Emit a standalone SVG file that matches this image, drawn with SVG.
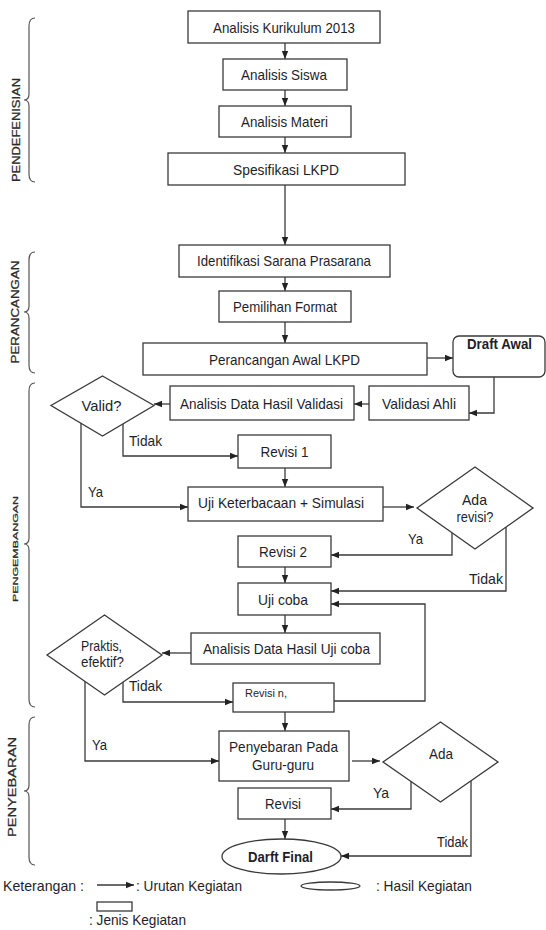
<svg xmlns="http://www.w3.org/2000/svg" width="546" height="930" viewBox="0 0 546 930">
<style>
.box{fill:#fff;stroke:#3a3a3a;stroke-width:1.3}
.t{font-family:"Liberation Sans",Arial,sans-serif;font-size:15px;fill:#1e1e2a;text-anchor:middle}
.l{text-anchor:start}
.b{font-weight:bold}
.c{fill:none;stroke:#3a3a3a;stroke-width:1.3}
.ar{marker-end:url(#ah)}
.br{fill:none;stroke:#555;stroke-width:1.2}
.v{font-family:"Liberation Sans",Arial,sans-serif;fill:#2a2a2a;text-anchor:middle;stroke:#2a2a2a;stroke-width:0.25}
</style>
<defs>
<marker id="ah" viewBox="0 0 10 10" refX="10" refY="5" markerWidth="8" markerHeight="8" markerUnits="userSpaceOnUse" orient="auto"><path d="M0,1 L10,5 L0,9 z" fill="#222"/></marker>
</defs>
<rect width="546" height="930" fill="#fff"/>

<g id="phases">
<path class="br" d="M35,18 Q29,18 29,26 L29,94 Q29,100 24,100 Q29,100 29,106 L29,174 Q29,182 35,182"/>
<text class="v" font-size="10.5" textLength="104" lengthAdjust="spacingAndGlyphs" transform="translate(20,130) rotate(-90)">PENDEFENISIAN</text>
<path class="br" d="M35,252 Q29,252 29,260 L29,306 Q29,312 24,312 Q29,312 29,318 L29,365 Q29,373 35,373"/>
<text class="v" font-size="10" textLength="103" lengthAdjust="spacingAndGlyphs" transform="translate(19,312) rotate(-90)">PERANCANGAN</text>
<path class="br" d="M35,383 Q29,383 29,391 L29,538 Q29,544 24,544 Q29,544 29,550 L29,699 Q29,707 35,707"/>
<text class="v" font-size="8" textLength="106" lengthAdjust="spacingAndGlyphs" transform="translate(18,549) rotate(-90)">PENGEMBANGAN</text>
<path class="br" d="M35,717 Q29,717 29,725 L29,785 Q29,791 24,791 Q29,791 29,797 L29,857 Q29,865 35,865"/>
<text class="v" font-size="10.5" textLength="100" lengthAdjust="spacingAndGlyphs" transform="translate(16,787) rotate(-90)">PENYEBARAN</text>
</g>

<g id="connectors">
<path class="c ar" d="M285,43 V59"/>
<path class="c ar" d="M285,90 V106"/>
<path class="c ar" d="M285,137 V153"/>
<path class="c ar" d="M285,185 V245"/>
<path class="c ar" d="M285,277 V291"/>
<path class="c ar" d="M285,322 V343"/>
<path class="c ar" d="M427,358 H453"/>
<path class="c ar" d="M494,377 V413 H469"/>
<path class="c ar" d="M369,404 H354"/>
<path class="c ar" d="M170,404 H154"/>
<path class="c ar" d="M123,423 V456 H238"/>
<path class="c ar" d="M81,423 V507 H188"/>
<path class="c ar" d="M285,468 V487"/>
<path class="c ar" d="M383,507 H414"/>
<path class="c ar" d="M452,533 V555 H331"/>
<path class="c ar" d="M506,527 V591 H331"/>
<path class="c ar" d="M285,567 V583"/>
<path class="c ar" d="M285,615 V633"/>
<path class="c ar" d="M191,653 H162"/>
<path class="c ar" d="M123,682 V702 H233"/>
<path class="c ar" d="M85,681 V761 H219"/>
<path class="c ar" d="M334,701 H425 V604 H331"/>
<path class="c ar" d="M285,712 V731"/>
<path class="c ar" d="M352,761 H380"/>
<path class="c ar" d="M411,781 V809 H331"/>
<path class="c ar" d="M471,781 V856 H341"/>
<path class="c ar" d="M285,819 V839"/>
</g>

<g id="n1"><rect class="box" x="188" y="11" width="192" height="32"/><text class="t" x="284" y="32.5" textLength="142" lengthAdjust="spacingAndGlyphs">Analisis Kurikulum 2013</text></g>
<g id="n2"><rect class="box" x="223" y="59" width="124" height="31"/><text class="t" x="284" y="80" textLength="86" lengthAdjust="spacingAndGlyphs">Analisis Siswa</text></g>
<g id="n3"><rect class="box" x="219" y="106" width="132" height="31"/><text class="t" x="284.5" y="127" textLength="87" lengthAdjust="spacingAndGlyphs">Analisis Materi</text></g>
<g id="n4"><rect class="box" x="168" y="153" width="237" height="32"/><text class="t" x="286" y="174.5" textLength="106" lengthAdjust="spacingAndGlyphs">Spesifikasi LKPD</text></g>
<g id="n5"><rect class="box" x="179" y="245" width="211" height="32"/><text class="t" x="284" y="266" textLength="174" lengthAdjust="spacingAndGlyphs">Identifikasi Sarana Prasarana</text></g>
<g id="n6"><rect class="box" x="219" y="291" width="132" height="31"/><text class="t" x="285" y="312" textLength="104" lengthAdjust="spacingAndGlyphs">Pemilihan Format</text></g>
<g id="n7"><rect class="box" x="143" y="343" width="284" height="32"/><text class="t" x="284.5" y="364.5" textLength="151" lengthAdjust="spacingAndGlyphs">Perancangan Awal LKPD</text></g>
<g id="n8"><rect class="box" x="453" y="336" width="92" height="41" rx="6"/><text class="t b" x="499.5" y="349" textLength="65" lengthAdjust="spacingAndGlyphs">Draft Awal</text></g>
<g id="n9"><rect class="box" x="369" y="386" width="100" height="34"/><text class="t" x="419" y="408.5" textLength="74" lengthAdjust="spacingAndGlyphs">Validasi Ahli</text></g>
<g id="n10"><rect class="box" x="170" y="386" width="184" height="34"/><text class="t" x="261.5" y="408.5" textLength="163" lengthAdjust="spacingAndGlyphs">Analisis Data Hasil Validasi</text></g>
<g id="n11"><polygon class="box" points="102.5,376 154,405.5 102.5,436 51,405.5"/><text class="t" x="101.5" y="410.5" textLength="40" lengthAdjust="spacingAndGlyphs">Valid?</text></g>
<g id="n12"><rect class="box" x="238" y="435" width="93" height="33"/><text class="t" x="284.5" y="457" textLength="48" lengthAdjust="spacingAndGlyphs">Revisi 1</text></g>
<g id="n13"><rect class="box" x="188" y="487" width="195" height="34"/><text class="t" x="281" y="507.5" textLength="166" lengthAdjust="spacingAndGlyphs">Uji Keterbacaan + Simulasi</text></g>
<g id="n14"><polygon class="box" points="475,467 533,508 475,549 417,508"/><text class="t" x="474.5" y="505" textLength="25" lengthAdjust="spacingAndGlyphs">Ada</text><text class="t" x="475" y="522" textLength="37" lengthAdjust="spacingAndGlyphs">revisi?</text></g>
<g id="n15"><rect class="box" x="238" y="536" width="93" height="31"/><text class="t" x="283" y="556.5" textLength="48" lengthAdjust="spacingAndGlyphs">Revisi 2</text></g>
<g id="n16"><rect class="box" x="238" y="583" width="93" height="32"/><text class="t" x="283" y="604.5" textLength="50" lengthAdjust="spacingAndGlyphs">Uji coba</text></g>
<g id="n17"><rect class="box" x="191" y="633" width="189" height="31"/><text class="t" x="286.5" y="653.5" textLength="167" lengthAdjust="spacingAndGlyphs">Analisis Data Hasil Uji coba</text></g>
<g id="n18"><polygon class="box" points="104.5,615 162,655 104.5,695 47,655"/><text class="t l" x="81" y="651" textLength="41" lengthAdjust="spacingAndGlyphs">Praktis,</text><text class="t l" x="81" y="667" textLength="43" lengthAdjust="spacingAndGlyphs">efektif?</text></g>
<g id="n19"><rect class="box" x="233" y="683" width="101" height="29"/><text class="t l" x="245" y="697" textLength="42" lengthAdjust="spacingAndGlyphs" style="font-size:10px">Revisi n,</text></g>
<g id="n20"><rect class="box" x="219" y="731" width="130" height="50"/><text class="t" x="283.5" y="751.5" textLength="109" lengthAdjust="spacingAndGlyphs">Penyebaran Pada</text><text class="t" x="283" y="769.5" textLength="62" lengthAdjust="spacingAndGlyphs">Guru-guru</text></g>
<g id="n21"><polygon class="box" points="440.5,722 498,762 440.5,802 383,762"/><text class="t" x="441" y="759" textLength="24" lengthAdjust="spacingAndGlyphs">Ada</text></g>
<g id="n22"><rect class="box" x="238" y="788" width="93" height="31"/><text class="t" x="283" y="808.5" textLength="36" lengthAdjust="spacingAndGlyphs">Revisi</text></g>
<g id="n23"><ellipse class="box" cx="281.5" cy="856.5" rx="59.5" ry="17.5"/><text class="t b" x="280.5" y="861.5" textLength="65" lengthAdjust="spacingAndGlyphs">Darft Final</text></g>

<g id="labels">
<text class="t l" x="129" y="446" textLength="33" lengthAdjust="spacingAndGlyphs">Tidak</text>
<text class="t l" x="88" y="497" textLength="15" lengthAdjust="spacingAndGlyphs">Ya</text>
<text class="t l" x="408" y="544" textLength="15" lengthAdjust="spacingAndGlyphs">Ya</text>
<text class="t l" x="469" y="584" textLength="34" lengthAdjust="spacingAndGlyphs">Tidak</text>
<text class="t l" x="129" y="691" textLength="33" lengthAdjust="spacingAndGlyphs">Tidak</text>
<text class="t l" x="92" y="750" textLength="15" lengthAdjust="spacingAndGlyphs">Ya</text>
<text class="t l" x="373" y="798" textLength="16" lengthAdjust="spacingAndGlyphs">Ya</text>
<text class="t l" x="437" y="847" textLength="31" lengthAdjust="spacingAndGlyphs">Tidak</text>
</g>

<g id="legend">
<text class="t l" x="3" y="891" textLength="81" lengthAdjust="spacingAndGlyphs">Keterangan :</text>
<path class="c ar" d="M97,885 H134"/>
<text class="t l" x="136" y="891" textLength="106" lengthAdjust="spacingAndGlyphs">: Urutan Kegiatan</text>
<ellipse class="box" cx="330.5" cy="886" rx="29.5" ry="4"/>
<text class="t l" x="376" y="891" textLength="96" lengthAdjust="spacingAndGlyphs">: Hasil Kegiatan</text>
<rect class="box" x="97" y="902" width="35" height="9"/>
<text class="t l" x="89" y="925" textLength="97" lengthAdjust="spacingAndGlyphs">: Jenis Kegiatan</text>
</g>
</svg>
